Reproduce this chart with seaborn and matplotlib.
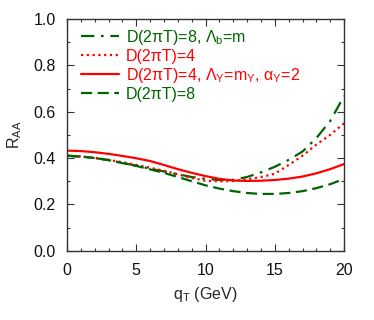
import matplotlib
matplotlib.use('Agg')
import matplotlib.pyplot as plt
from matplotlib.ticker import MultipleLocator
import pandas as pd
import seaborn as sns

# transverse momentum grid (GeV)
q_t = list(range(0, 21))

# R_AA curves
dash_dot_d8_lam_b = [0.410, 0.406, 0.400, 0.391, 0.379, 0.367, 0.354, 0.342, 0.330, 0.318, 0.310,
                     0.305, 0.306, 0.318, 0.338, 0.362, 0.392, 0.428, 0.486, 0.560, 0.668]
dotted_d4 = [0.410, 0.407, 0.401, 0.392, 0.382, 0.370, 0.358, 0.345, 0.330, 0.314, 0.302,
             0.299, 0.301, 0.308, 0.318, 0.332, 0.370, 0.410, 0.458, 0.500, 0.550]
solid_d4_lam_y = [0.432, 0.430, 0.425, 0.418, 0.409, 0.399, 0.387, 0.370, 0.352, 0.336, 0.322,
                  0.310, 0.303, 0.301, 0.302, 0.305, 0.311, 0.320, 0.334, 0.352, 0.374]
dashed_d8 = [0.410, 0.406, 0.400, 0.391, 0.378, 0.366, 0.351, 0.336, 0.318, 0.300, 0.282,
             0.268, 0.257, 0.249, 0.245, 0.245, 0.249, 0.257, 0.270, 0.287, 0.310]

labels = [
    r'D(2πT)=8, Λ$_{\mathregular{b}}$=m',
    r'D(2πT)=4',
    r'D(2πT)=4, Λ$_{\mathregular{Υ}}$=m$_{\mathregular{Υ}}$, α$_{\mathregular{Υ}}$=2',
    r'D(2πT)=8',
]

GREEN = '#006400'
RED = '#ff0000'

sns.set_style('ticks')
plt.rcParams['font.family'] = ['Liberation Sans', 'DejaVu Sans']
plt.rcParams['mathtext.fontset'] = 'custom'
plt.rcParams['mathtext.rm'] = 'Liberation Sans'

figure = plt.figure(figsize=(3.74, 3.2), dpi=100)
axes = figure.add_axes([0.179, 0.2166, 0.741, 0.724])

series = [
    (dash_dot_d8_lam_b, GREEN, (0, (6, 3, 1.2, 3))),
    (dotted_d4, RED, (0, (1.0, 1.6))),
    (solid_d4_lam_y, RED, '-'),
    (dashed_d8, GREEN, (0, (5, 2.5))),
]
for (values, color, style), label in zip(series, labels):
    frame = pd.DataFrame({'q': q_t, 'r': values})
    sns.lineplot(data=frame, x='q', y='r', ax=axes, color=color, linestyle=style,
                 linewidth=1.6, label=label)

axes.set_xlim(0, 20)
axes.set_ylim(0, 1.0)
axes.xaxis.set_major_locator(MultipleLocator(5))
axes.xaxis.set_minor_locator(MultipleLocator(1))
axes.yaxis.set_major_locator(MultipleLocator(0.2))
axes.yaxis.set_minor_locator(MultipleLocator(0.1))
axes.yaxis.set_major_formatter(matplotlib.ticker.FormatStrFormatter('%.1f'))
axes.tick_params(which='both', direction='in', top=True, right=True, labelsize=11.5, colors='#333333',
                 labelcolor='#111111')
axes.tick_params(which='major', length=5, width=0.8)
axes.tick_params(which='minor', length=2.5, width=0.8)
axes.tick_params(axis='x', pad=9)
axes.tick_params(axis='y', pad=8)
for spine in axes.spines.values():
    spine.set_linewidth(1.0)
    spine.set_color('#333333')

axes.set_xlabel(r'q$_{\mathregular{T}}$ (GeV)', fontsize=11.5, labelpad=5)
axes.set_ylabel(r'R$_{\mathregular{AA}}$', fontsize=11.5, labelpad=7)

legend = axes.legend(loc='upper left', bbox_to_anchor=(0.02, 1.0), frameon=False,
                     fontsize=11.5, handlelength=2.35, handletextpad=0.45,
                     labelspacing=0.12, borderaxespad=0.2, borderpad=0.35)
for text, line in zip(legend.get_texts(), legend.get_lines()):
    text.set_color(line.get_color())

figure.savefig('out.png', dpi=100)
